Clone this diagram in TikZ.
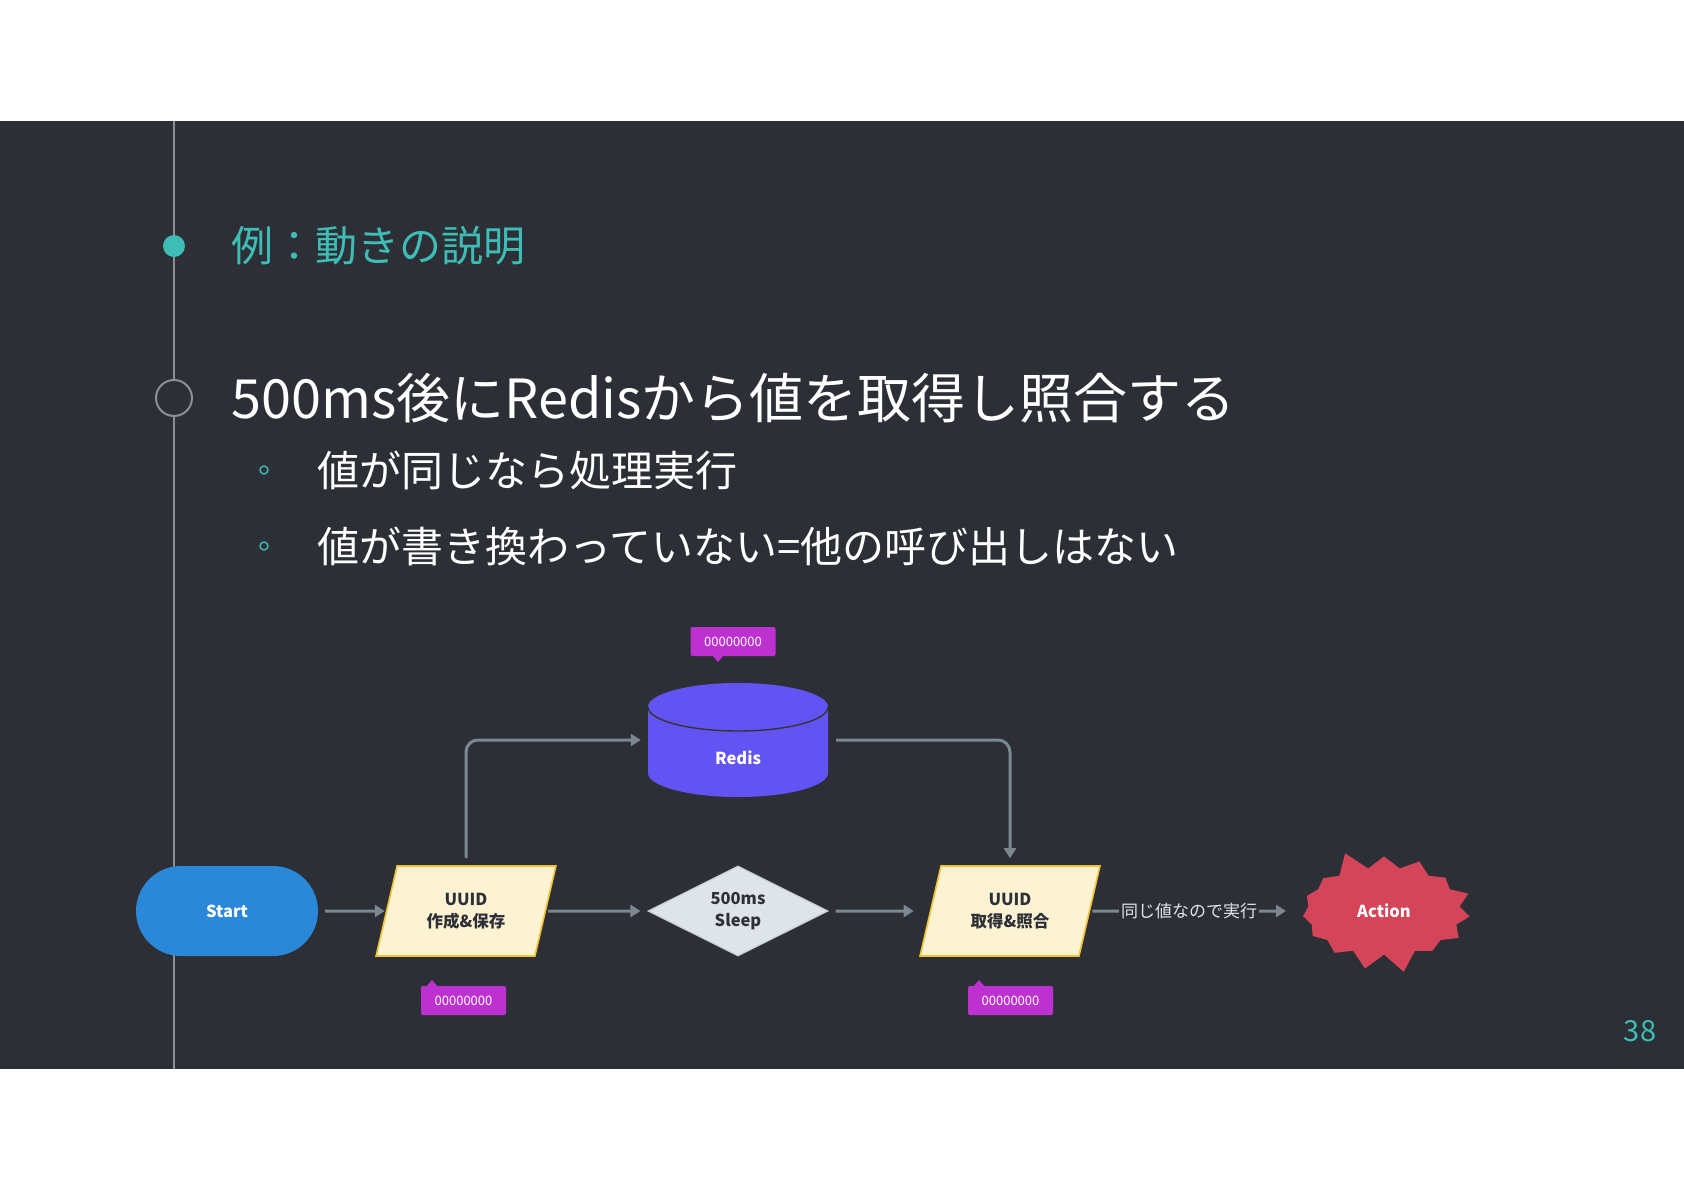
\documentclass[tikz,border=0pt]{standalone}
\usepackage{fontspec}
\setmainfont{Noto Sans CJK JP}
\usetikzlibrary{shapes.geometric,shapes.symbols,arrows.meta}
\definecolor{bgdark}{HTML}{2D2F36}
\definecolor{rulegray}{HTML}{8C8F96}
\definecolor{myteal}{HTML}{3DBDB5}
\definecolor{startblue}{HTML}{2B88D9}
\definecolor{creamfill}{HTML}{FDF3D3}
\definecolor{yellowline}{HTML}{F2C232}
\definecolor{diafill}{HTML}{DFE4EB}
\definecolor{diaedge}{HTML}{C4CBD3}
\definecolor{arrowgray}{HTML}{7D8792}
\definecolor{redisblue}{HTML}{6254F2}
\definecolor{actred}{HTML}{D5455A}
\definecolor{tagmag}{HTML}{BD31D1}
\definecolor{darktext}{HTML}{2E3038}
\definecolor{lbltext}{HTML}{E2E4E8}
\begin{document}
\pgfmathsetseed{11}
\begin{tikzpicture}[x=1pt,y=-1pt,
  headline/.style={anchor=west,text=white,inner sep=0pt,font=\fontsize{54}{60}\selectfont},
  subline/.style={anchor=west,text=white,inner sep=0pt,font=\fontsize{42}{50}\selectfont},
  bulletdot/.style={circle,draw=myteal,line width=1.4pt,minimum size=8pt,inner sep=0pt},
  shapetext/.style={font=\fontsize{16.5}{22}\selectfont\bfseries,align=center,inner sep=0pt},
  startn/.style={shapetext,rectangle,rounded corners=45pt,fill=startblue,text=white,minimum width=182pt,minimum height=90pt},
  ionode/.style={shapetext,trapezium,trapezium left angle=71.6,trapezium right angle=108.4,trapezium stretches=true,fill=creamfill,draw=yellowline,line width=1.6pt,text=darktext,minimum width=180pt,minimum height=90pt},
  decnode/.style={shapetext,diamond,aspect=2,fill=diafill,draw=diaedge,line width=1.2pt,text=darktext,minimum width=180pt,minimum height=90pt},
  burstnode/.style={shapetext,starburst,starburst points=15,starburst point height=20pt,random starburst=25,fill=actred,text=white,minimum width=192pt,minimum height=127pt},
  tagnode/.style={fill=tagmag,rounded corners=2pt,text=white,minimum width=85pt,minimum height=29pt,inner sep=0pt,font=\fontsize{13}{15}\selectfont},
  arr/.style={draw=arrowgray,line width=3pt,-{Triangle[length=10pt,width=12pt]}},
]
\useasboundingbox (0,0) rectangle (1684,1191);
\fill[white] (0,0) rectangle (1684,1191);
\fill[bgdark] (0,121) rectangle (1684,1069);
% timeline
\draw[rulegray,line width=2pt] (174,121) -- (174,1069);
\fill[myteal] (174,246) circle[radius=11];
\draw[rulegray,line width=2pt,fill=bgdark] (174,398) circle[radius=18];
% texts
\node[anchor=west,inner sep=0pt,text=myteal,font=\fontsize{42}{50}\selectfont] (title) at (231,246) {例：動きの説明};
\node[headline] (head) at (231,398) {500ms後にRedisから値を取得し照合する};
\node[bulletdot] (b1) at (264,470) {};
\node[subline] (s1) at (317,470) {値が同じなら処理実行};
\node[bulletdot] (b2) at (264,546) {};
\node[subline] (s2) at (317,546) {値が書き換わっていない=他の呼び出しはない};
\node[text=myteal,inner sep=0pt,font=\fontsize{29}{32}\selectfont] (pnum) at (1640,1031) {38};
% redis cylinder
\fill[redisblue] (648,707) -- (648,773) arc[start angle=180,end angle=0,x radius=90,y radius=24] -- (828,707) arc[start angle=0,end angle=-180,x radius=90,y radius=24] -- cycle;
\draw[black!80,line width=1.4pt] (648,707) arc[start angle=180,end angle=0,x radius=90,y radius=24];
\node[inner sep=0pt,minimum width=180pt,minimum height=114pt] (redis) at (738,740) {};
\node[shapetext,text=white] (redislbl) at (738,758) {Redis};
% flow nodes
\node[startn] (start) at (227,911) {Start};
\node[ionode] (u1) at (466,911) {UUID\\作成\&保存};
\node[decnode] (sleep) at (738,911) {500ms\\Sleep};
\node[ionode] (u2) at (1010,911) {UUID\\取得\&照合};
\node[burstnode] (act) at (1384,911) {Action};
% tags
\node[tagnode] (tag1) at (733,641.5) {00000000};
\fill[tagmag] (712,655) -- (724,655) -- (718,662) -- cycle;
\node[tagnode] (tag2) at (463.5,1000.5) {00000000};
\fill[tagmag] (426,987) -- (438,987) -- (432,980) -- cycle;
\node[tagnode] (tag3) at (1010.5,1000.5) {00000000};
\fill[tagmag] (973,987) -- (985,987) -- (979,980) -- cycle;
% connectors
\draw[arr] ([xshift=7pt]start.east) -- ([xshift=-1pt]u1.west);
\draw[arr] ([xshift=2pt]u1.east) -- ([xshift=-7pt]sleep.west);
\draw[arr] ([xshift=7pt]sleep.east) -- ([xshift=-16pt]u2.west);
\draw[arr,rounded corners=12pt] ([yshift=7pt]u1.north) |- ([xshift=-7pt]redis.west);
\draw[arr,rounded corners=12pt] ([xshift=8pt]redis.east) -| ([yshift=7pt]u2.north);
\draw[arr] ([xshift=2pt]u2.east) -- node[fill=bgdark,inner sep=2pt,text=lbltext,font=\fontsize{17}{20}\selectfont] (lbl) {同じ値なので実行} ([xshift=-98pt]act.center);
\end{tikzpicture}
\end{document}
